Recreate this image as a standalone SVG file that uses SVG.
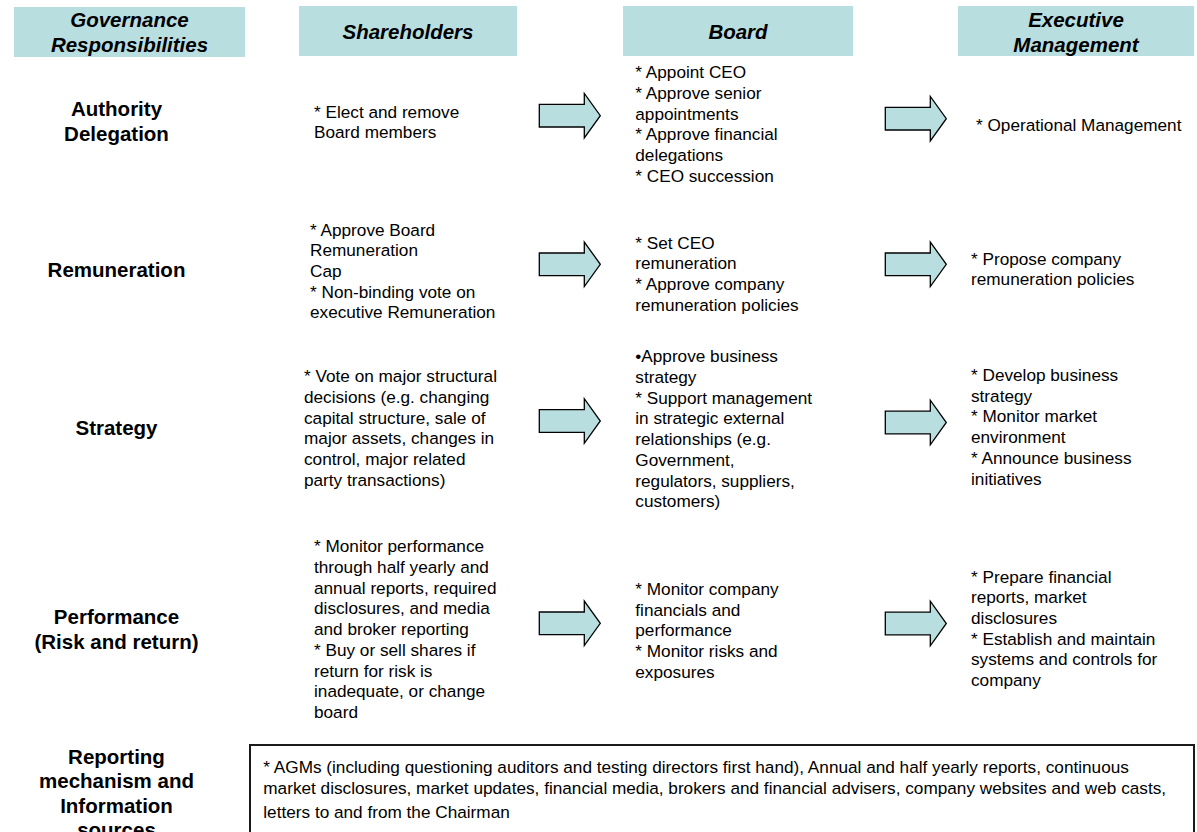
<svg xmlns="http://www.w3.org/2000/svg" xmlns:xlink="http://www.w3.org/1999/xlink" width="1197" height="832" viewBox="0 0 1197 832">
  <style>
    .hdr { fill: #B9DEE0; }
    .hdr-t { font-family: "Liberation Sans", Arial, sans-serif; font-size: 20.5px; font-weight: bold; font-style: italic; fill: #000; text-anchor: middle; }
    .lbl { font-family: "Liberation Sans", Arial, sans-serif; font-size: 20.5px; font-weight: bold; fill: #000; text-anchor: middle; }
    .body { font-family: "Liberation Sans", Arial, sans-serif; font-size: 17.2px; fill: #000; }
    .arrow { fill: #B9DEE0; stroke: #000; stroke-width: 1.3; stroke-linejoin: miter; }
    .box { fill: #fff; stroke: #1a1a1a; stroke-width: 2; }
  </style>
  <defs>
    <!-- block arrow, origin at the middle of its tail -->
    <path id="blockArrow" d="M0,-11.3 H45 V-22.3 L61,0 L45,22.3 V11.3 H0 Z"/>
  </defs>

  <rect width="1197" height="832" fill="#fff"/>

  <!-- column headers -->
  <g id="hdr-governance">
    <rect class="hdr" x="14" y="7" width="231" height="50"/>
    <text class="hdr-t" x="129.5" y="27">Governance</text>
    <text class="hdr-t" x="129.5" y="52">Responsibilities</text>
  </g>
  <g id="hdr-shareholders">
    <rect class="hdr" x="299" y="6" width="218" height="50"/>
    <text class="hdr-t" x="408" y="39">Shareholders</text>
  </g>
  <g id="hdr-board">
    <rect class="hdr" x="623" y="6" width="230" height="50"/>
    <text class="hdr-t" x="738" y="39">Board</text>
  </g>
  <g id="hdr-executive">
    <rect class="hdr" x="958" y="6" width="236" height="50"/>
    <text class="hdr-t" x="1076" y="27">Executive</text>
    <text class="hdr-t" x="1076" y="51.5">Management</text>
  </g>

  <!-- row labels -->
  <g id="lbl-authority">
    <text class="lbl" x="116.5" y="116">Authority</text>
    <text class="lbl" x="116.5" y="140.7">Delegation</text>
  </g>
  <g id="lbl-remuneration">
    <text class="lbl" x="116.5" y="277">Remuneration</text>
  </g>
  <g id="lbl-strategy">
    <text class="lbl" x="116.5" y="435">Strategy</text>
  </g>
  <g id="lbl-performance">
    <text class="lbl" x="116.5" y="624">Performance</text>
    <text class="lbl" x="116.5" y="648.5">(Risk and return)</text>
  </g>
  <g id="lbl-reporting">
    <text class="lbl" x="116.5" y="763.5">Reporting</text>
    <text class="lbl" x="116.5" y="788">mechanism and</text>
    <text class="lbl" x="116.5" y="812.5">Information</text>
    <text class="lbl" x="116.5" y="837">sources</text>
  </g>

  <!-- shareholders column -->
  <g id="sh-authority">
    <text class="body" x="314" y="117.5">* Elect and remove</text>
    <text class="body" x="314" y="138.2">Board members</text>
  </g>
  <g id="sh-remuneration">
    <text class="body" x="310" y="235.5">* Approve Board</text>
    <text class="body" x="310" y="256.2">Remuneration</text>
    <text class="body" x="310" y="276.9">Cap</text>
    <text class="body" x="310" y="297.6">* Non-binding vote on</text>
    <text class="body" x="310" y="318.3">executive Remuneration</text>
  </g>
  <g id="sh-strategy">
    <text class="body" x="304" y="382.3">* Vote on major structural</text>
    <text class="body" x="304" y="403">decisions (e.g. changing</text>
    <text class="body" x="304" y="423.7">capital structure, sale of</text>
    <text class="body" x="304" y="444.4">major assets, changes in</text>
    <text class="body" x="304" y="465.1">control, major related</text>
    <text class="body" x="304" y="485.8">party transactions)</text>
  </g>
  <g id="sh-performance">
    <text class="body" x="314" y="552.3">* Monitor performance</text>
    <text class="body" x="314" y="573">through half yearly and</text>
    <text class="body" x="314" y="593.7">annual reports, required</text>
    <text class="body" x="314" y="614.4">disclosures, and media</text>
    <text class="body" x="314" y="635.1">and broker reporting</text>
    <text class="body" x="314" y="655.8">* Buy or sell shares if</text>
    <text class="body" x="314" y="676.5">return for risk is</text>
    <text class="body" x="314" y="697.2">inadequate, or change</text>
    <text class="body" x="314" y="717.9">board</text>
  </g>

  <!-- board column -->
  <g id="bd-authority">
    <text class="body" x="635.3" y="78.3">* Appoint CEO</text>
    <text class="body" x="635.3" y="99">* Approve senior</text>
    <text class="body" x="635.3" y="119.7">appointments</text>
    <text class="body" x="635.3" y="140.4">* Approve financial</text>
    <text class="body" x="635.3" y="161.1">delegations</text>
    <text class="body" x="635.3" y="181.8">* CEO succession</text>
  </g>
  <g id="bd-remuneration">
    <text class="body" x="635.3" y="248.5">* Set CEO</text>
    <text class="body" x="635.3" y="269.2">remuneration</text>
    <text class="body" x="635.3" y="289.9">* Approve company</text>
    <text class="body" x="635.3" y="310.6">remuneration policies</text>
  </g>
  <g id="bd-strategy">
    <text class="body" x="635.3" y="362.3">•Approve business</text>
    <text class="body" x="635.3" y="383">strategy</text>
    <text class="body" x="635.3" y="403.7">* Support management</text>
    <text class="body" x="635.3" y="424.4">in strategic external</text>
    <text class="body" x="635.3" y="445.1">relationships (e.g.</text>
    <text class="body" x="635.3" y="465.8">Government,</text>
    <text class="body" x="635.3" y="486.5">regulators, suppliers,</text>
    <text class="body" x="635.3" y="507.2">customers)</text>
  </g>
  <g id="bd-performance">
    <text class="body" x="635.3" y="595">* Monitor company</text>
    <text class="body" x="635.3" y="615.7">financials and</text>
    <text class="body" x="635.3" y="636.4">performance</text>
    <text class="body" x="635.3" y="657.1">* Monitor risks and</text>
    <text class="body" x="635.3" y="677.8">exposures</text>
  </g>

  <!-- executive management column -->
  <g id="ex-authority">
    <text class="body" x="976" y="131">* Operational Management</text>
  </g>
  <g id="ex-remuneration">
    <text class="body" x="971" y="264.7">* Propose company</text>
    <text class="body" x="971" y="285.4">remuneration policies</text>
  </g>
  <g id="ex-strategy">
    <text class="body" x="971" y="381">* Develop business</text>
    <text class="body" x="971" y="401.7">strategy</text>
    <text class="body" x="971" y="422.4">* Monitor market</text>
    <text class="body" x="971" y="443.1">environment</text>
    <text class="body" x="971" y="463.8">* Announce business</text>
    <text class="body" x="971" y="484.5">initiatives</text>
  </g>
  <g id="ex-performance">
    <text class="body" x="971" y="582.5">* Prepare financial</text>
    <text class="body" x="971" y="603.2">reports, market</text>
    <text class="body" x="971" y="623.9">disclosures</text>
    <text class="body" x="971" y="644.6">* Establish and maintain</text>
    <text class="body" x="971" y="665.3">systems and controls for</text>
    <text class="body" x="971" y="686">company</text>
  </g>

  <!-- reporting sources box -->
  <g id="reporting-box">
    <rect class="box" x="250" y="745" width="944" height="120"/>
    <text class="body" x="263.3" y="773.3">* AGMs (including questioning auditors and testing directors first hand), Annual and half yearly reports, continuous</text>
    <text class="body" x="263.3" y="794.3">market disclosures, market updates, financial media, brokers and financial advisers, company websites and web casts,</text>
    <text class="body" x="263.3" y="817.7">letters to and from the Chairman</text>
  </g>

  <!-- connectors: block arrows between columns -->
  <g id="connectors">
    <use class="arrow" xlink:href="#blockArrow" href="#blockArrow" x="539.3" y="115.7"/>
    <use class="arrow" xlink:href="#blockArrow" href="#blockArrow" x="885.3" y="118.7"/>
    <use class="arrow" xlink:href="#blockArrow" href="#blockArrow" x="539.3" y="264.3"/>
    <use class="arrow" xlink:href="#blockArrow" href="#blockArrow" x="885.3" y="264.3"/>
    <use class="arrow" xlink:href="#blockArrow" href="#blockArrow" x="539.3" y="421"/>
    <use class="arrow" xlink:href="#blockArrow" href="#blockArrow" x="885.3" y="422.5"/>
    <use class="arrow" xlink:href="#blockArrow" href="#blockArrow" x="539.3" y="623.3"/>
    <use class="arrow" xlink:href="#blockArrow" href="#blockArrow" x="885.3" y="623.5"/>
  </g>
</svg>
